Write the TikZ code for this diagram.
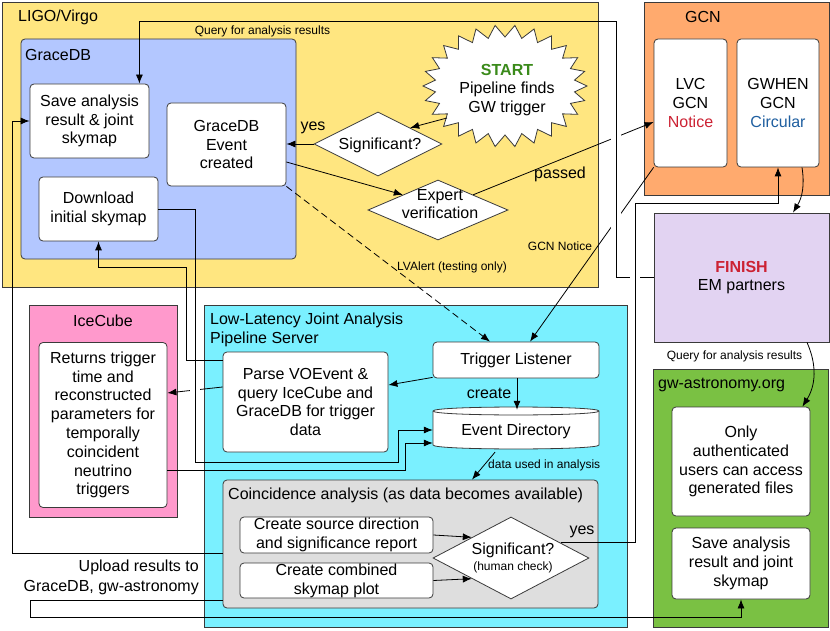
\documentclass[tikz,border=0pt]{standalone}
\usepackage{fontspec}
\setmainfont{Liberation Sans}
\usetikzlibrary{shapes.geometric, arrows.meta, calc}
\definecolor{linec}{HTML}{3A3A3A}
\definecolor{yellowc}{HTML}{FFE680}
\definecolor{bluec}{HTML}{B3C7FF}
\definecolor{orangec}{HTML}{FFAA6E}
\definecolor{lavc}{HTML}{E2D3F2}
\definecolor{greenc}{HTML}{7AC143}
\definecolor{pinkc}{HTML}{FF99CC}
\definecolor{cyanc}{HTML}{7AF0FF}
\definecolor{grayc}{HTML}{DEDEDE}
\definecolor{startgreen}{HTML}{3A8A1A}
\definecolor{redc}{HTML}{CC2233}
\definecolor{circblue}{HTML}{1F5FA0}
\newcommand\mainfnt{\fontsize{16}{18.8}\selectfont}
\newcommand\smallfnt{\fontsize{12}{14}\selectfont}
\begin{document}
\begin{tikzpicture}[x=1pt, y=-1pt,
  region/.style={draw=linec, line width=.8pt, inner sep=0pt},
  wbox/.style={draw=linec, fill=white, rounded corners=4pt, line width=.8pt, align=center, inner sep=0pt, font=\mainfnt},
  dia/.style={diamond, draw=linec, fill=white, line width=.8pt, inner sep=0pt},
  ttl/.style={font=\mainfnt, inner sep=0pt, align=center},
  sml/.style={font=\smallfnt, inner sep=0pt},
  arr/.style={draw=black, line width=.8pt, -{Latex[length=9pt,width=7pt]}},
  gapfill/.style={fill=white, draw=none}]
\useasboundingbox (0,0) rectangle (830,631);
% regions
\node[region, fill=yellowc, minimum width=596pt, minimum height=285pt] (ligo) at (300,144.5) {};
\node[region, fill=bluec, rounded corners=4pt, minimum width=275pt, minimum height=220pt] (gdb) at (158.5,149) {};
\node[region, fill=orangec, minimum width=185pt, minimum height=193pt] (gcn) at (736.5,98.5) {};
\node[region, fill=lavc, minimum width=175pt, minimum height=129pt, align=center, font=\mainfnt] (finish) at (741.5,277.5) {\textcolor{redc}{\bfseries FINISH}\\EM partners};
\node[region, fill=greenc, minimum width=175pt, minimum height=258pt] (gwa) at (740.5,498) {};
\node[region, fill=pinkc, minimum width=148pt, minimum height=212pt] (ice) at (103,411) {};
\node[region, fill=cyanc, minimum width=423pt, minimum height=322pt] (llp) at (415.5,466) {};
\node[region, fill=grayc, rounded corners=4pt, minimum width=375pt, minimum height=128pt] (coin) at (410.5,544) {};
% region titles
\node[ttl, anchor=west] (ligot) at (18,17) {LIGO/Virgo};
\node[ttl, anchor=west] (gdbt) at (25,55) {GraceDB};
\node[ttl] (gcnt) at (703,17) {GCN};
\node[ttl] (icet) at (103,321) {IceCube};
\node[ttl, anchor=west, align=left] (llpt) at (210,330) {Low-Latency Joint Analysis\\Pipeline Server};
\node[ttl, anchor=west] (gwat) at (658,385) {gw-astronomy.org};
\node[ttl, anchor=west] (coint) at (228,495) {Coincidence analysis (as data becomes available)};
% boxes
\node[wbox, minimum width=119pt, minimum height=74pt] (save1) at (89.5,121) {Save analysis\\result \& joint\\skymap};
\node[wbox, minimum width=119pt, minimum height=83pt] (ev) at (226.5,144.5) {GraceDB\\Event\\created};
\node[wbox, minimum width=119pt, minimum height=64pt] (dl) at (98.5,209) {Download\\initial skymap};
\node[wbox, minimum width=73pt, minimum height=128pt] (lvc) at (690.5,103) {LVC\\GCN\\\textcolor{redc}{Notice}};
\node[wbox, minimum width=82pt, minimum height=128pt] (gwhen) at (778,103) {GWHEN\\GCN\\\textcolor{circblue}{Circular}};
\node[wbox, minimum width=138pt, minimum height=109pt] (only) at (741,461.5) {Only\\authenticated\\users can access\\generated files};
\node[wbox, minimum width=138pt, minimum height=71pt] (save2) at (741,563.5) {Save analysis\\result and joint\\skymap};
\node[wbox, minimum width=128pt, minimum height=165pt] (ret) at (103,425) {Returns trigger\\time and\\reconstructed\\parameters for\\temporally\\coincident\\neutrino\\triggers};
\node[wbox, minimum width=165pt, minimum height=100pt] (parse) at (305.5,402) {Parse VOEvent \&\\query IceCube and\\GraceDB for trigger\\data};
\node[wbox, minimum width=166pt, minimum height=36pt] (tl) at (516,360) {Trigger Listener};
\node[wbox, minimum width=193pt, minimum height=36pt] (src) at (336.5,535) {Create source direction\\and significance report};
\node[wbox, minimum width=193pt, minimum height=35pt] (sky) at (336.5,580.5) {Create combined\\skymap plot};
% event directory cylinder
\draw[draw=linec, fill=white, line width=.8pt] (433,411) -- (433,445) .. controls (433,450.3) and (599,450.3) .. (599,445) -- (599,411) .. controls (599,405.7) and (433,405.7) .. (433,411) -- cycle;
\draw[draw=linec, line width=.8pt] (433,411) .. controls (433,416.3) and (599,416.3) .. (599,411);
\node[ttl, minimum width=166pt, minimum height=42pt] (evd) at (516,431) {Event Directory};
% start burst
\draw[draw=linec, fill=white, line width=.8pt] (587,86) \foreach \i in {1,...,51} { -- ({505+(82-12*mod(\i,2))*cos(\i*6.923077)}, {86+(61-12*mod(\i,2))*sin(\i*6.923077)}) } -- cycle;
\node[ttl] (start) at (507,90) {\textcolor{startgreen}{\bfseries START}\\Pipeline finds\\GW trigger};
\coordinate (stedge) at (447,118);
% diamonds
\node[dia, minimum width=128pt, minimum height=64pt] (sig) at (378,144) {};
\node[ttl] (sigt) at (380,145) {Significant?};
\node[dia, minimum width=140pt, minimum height=60pt] (exp) at (438,210) {};
\node[ttl] (expt) at (440,204) {Expert\\verification};
\node[dia, minimum width=156pt, minimum height=82pt] (hc) at (511,558) {};
\node[ttl] (hct) at (513,550) {Significant?};
\node[sml] (hct2) at (513,567) {(human check)};
% labels
\node[ttl] (yes1) at (313,128) {yes};
\node[ttl] (passed) at (560,174) {passed};
\node[sml] (gcnn) at (560,246) {GCN Notice};
\node[sml] (lva) at (452,267) {LVAlert (testing only)};
\node[sml] (q1) at (262.5,31) {Query for analysis results};
\node[sml] (q2) at (734.5,356) {Query for analysis results};
\node[ttl] (create) at (489,393) {create};
\node[sml, anchor=west] (dua) at (488,465) {data used in analysis};
\node[ttl] (yes2) at (582,532) {yes};
\node[ttl, anchor=east, align=right, font=\fontsize{16}{20}\selectfont] (upl) at (199,577) {Upload results to\\GraceDB, gw-astronomy};
% connectors
\draw[arr] (stedge) -- (sig.north east);
\draw[arr] (sig.west) -- (sig.west -| ev.east);
\draw[arr] ([yshift=-17.5pt]ev.east) -- (exp.north west);
\draw[arr] (exp.north east) -- ([yshift=-19pt]lvc.west);
\draw[arr, dash pattern=on 7pt off 4pt] (ev.south east) -- ([xshift=-26pt]tl.north);
\draw[arr] (lvc.south west) -- ([xshift=14pt]tl.north);
\fill[gapfill] (611,130) rectangle (621,145);
\fill[gapfill] (611,211) rectangle (621,231);
\draw[arr] (finish.west) -| (616,21) -| ([xshift=-10pt]save1.north east);
\fill[gapfill] (630,273) rectangle (640,282);
\draw[arr] (hc.17) -| (635,203) -| (gwhen.south);
\draw[arr] ([xshift=24pt]gwhen.south) to[bend left=20] ([xshift=51.5pt]finish.north);
\draw[arr] ([xshift=65.5pt]finish.south) to[bend left=28] ([xshift=-8pt]only.north east);
\draw[arr] ([yshift=1pt]tl.south west) -- ([yshift=17pt]parse.east);
\draw[arr] (tl.south -| 517,0) -- (evd.north -| 517,0);
\draw[arr] ([yshift=15pt]parse.west) -- ([yshift=32pt]ret.east);
\fill[gapfill] (190,383) rectangle (200,397);
\draw[arr] ([yshift=42pt]parse.west) -| (186,267) -| (dl.south);
\coordinate (ea) at (398,430);
\coordinate (ec) at (405,443);
\draw[arr] (dl.east) -| (195,462) -| (ea) -- (ea -| evd.west);
\draw[arr] ([yshift=-45.5pt]ret.east) -| (ec) -- (ec -| evd.west);
\draw[arr] ([xshift=-21pt]evd.south) -- ([xshift=61.5pt]coin.north);
\draw[arr] (src.east) -- (hc.north west);
\draw[arr] (sky.east) -- (hc.south west);
\draw[arr] ([yshift=-9pt]coin.west) -| (12,121) -- (save1.west);
\draw[arr] ([yshift=-56pt]coin.west) -| (30,617) -| (save2.south);
\end{tikzpicture}
\end{document}
